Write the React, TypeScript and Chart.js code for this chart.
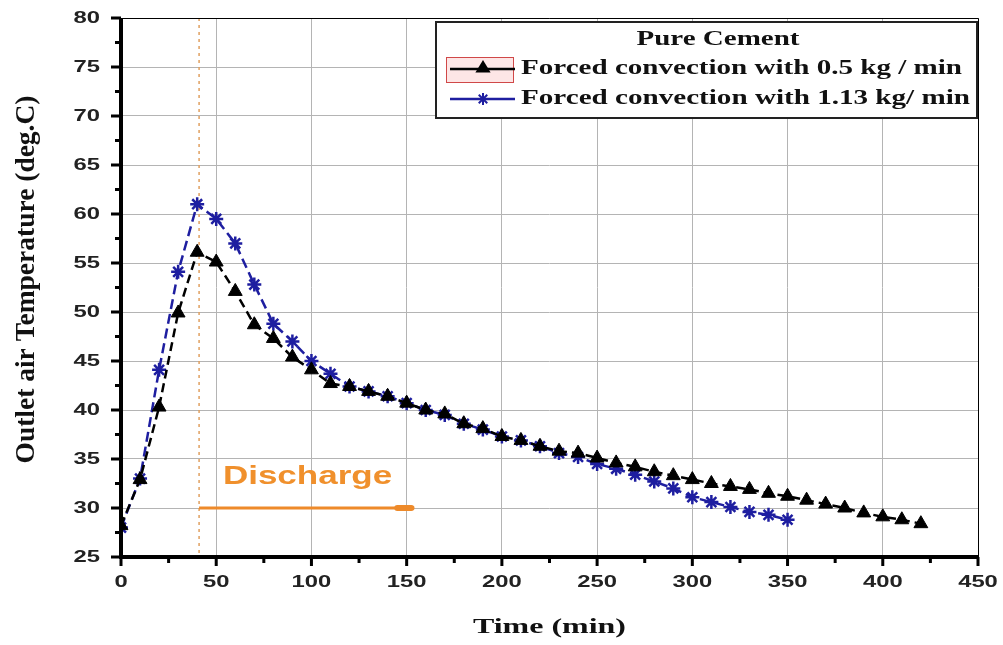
import React, { useEffect, useRef } from "react";
import { Chart, registerables } from "chart.js";

Chart.register(...registerables);

// ---------- data ----------
const timeSlow = [0, 10, 20, 30, 40, 50, 60, 70, 80, 90, 100, 110, 120, 130, 140, 150, 160, 170, 180, 190, 200, 210, 220, 230, 240, 250, 260, 270, 280, 290, 300, 310, 320, 330, 340, 350, 360, 370, 380, 390, 400, 410, 420];
const tempSlow = [28.2, 32.9, 40.3, 49.9, 56.1, 55.1, 52.1, 48.7, 47.3, 45.4, 44.1, 42.7, 42.4, 41.9, 41.4, 40.7, 40.0, 39.6, 38.6, 38.1, 37.3, 36.9, 36.3, 35.8, 35.6, 35.1, 34.6, 34.2, 33.7, 33.3, 32.9, 32.5, 32.2, 31.9, 31.5, 31.2, 30.8, 30.4, 30.0, 29.5, 29.1, 28.8, 28.4];
const timeFast = [0, 10, 20, 30, 40, 50, 60, 70, 80, 90, 100, 110, 120, 130, 140, 150, 160, 170, 180, 190, 200, 210, 220, 230, 240, 250, 260, 270, 280, 290, 300, 310, 320, 330, 340, 350];
const tempFast = [28.0, 33.0, 44.1, 54.1, 61.0, 59.5, 57.0, 52.8, 48.8, 47.0, 45.0, 43.7, 42.4, 41.9, 41.4, 40.7, 40.0, 39.5, 38.6, 38.0, 37.3, 36.9, 36.3, 35.6, 35.2, 34.5, 34.0, 33.4, 32.7, 32.0, 31.1, 30.6, 30.1, 29.6, 29.3, 28.8];

const xTicks = [0, 50, 100, 150, 200, 250, 300, 350, 400, 450];
const xMinorTicks = [25, 75, 125, 175, 225, 275, 325, 375, 425];
const yTicks = [25, 30, 35, 40, 45, 50, 55, 60, 65, 70, 75, 80];
const yMinorTicks = [27.5, 32.5, 37.5, 42.5, 47.5, 52.5, 57.5, 62.5, 67.5, 72.5, 77.5];

const legendTitle = "Pure Cement";
const seriesLabels = ["Forced convection with 0.5 kg / min", "Forced convection with 1.13 kg/ min"];
const xTitle = "Time (min)";
const yTitle = "Outlet air Temperature (deg.C)";

const dischargeLabel = "Discharge";
const dischargeStart = 41;
const dischargeEnd = 154;
const dischargeLevel = 30;
const dischargeTextTime = 53.5;
const dischargeTextTemp = 33.2;

// ---------- styles ----------
const BLUE = "#1e1ea0";
const ORANGE = "#ee8a2a";
const SX = 1.4;
const SANS = "'Liberation Sans', Arial, sans-serif";
const SERIF = "'Liberation Serif', 'Times New Roman', serif";

function drawText(ctx: CanvasRenderingContext2D, text: string, x: number, y: number, font: string, color: string, align: CanvasTextAlign, sx: number, targetWidth?: number) {
  ctx.save();
  ctx.font = font;
  ctx.fillStyle = color;
  ctx.textBaseline = "middle";
  ctx.textAlign = align;
  let s = sx;
  if (targetWidth) s = targetWidth / ctx.measureText(text).width;
  ctx.translate(x, y);
  ctx.scale(s, 1);
  ctx.fillText(text, 0, 0);
  ctx.restore();
}

function drawStar(ctx: CanvasRenderingContext2D, x: number, y: number, r: number) {
  ctx.save();
  ctx.strokeStyle = BLUE;
  ctx.lineWidth = 2;
  ctx.beginPath();
  for (let i = 0; i < 4; i++) {
    const a = (i * Math.PI) / 4;
    ctx.moveTo(x - Math.cos(a) * r, y - Math.sin(a) * r);
    ctx.lineTo(x + Math.cos(a) * r, y + Math.sin(a) * r);
  }
  ctx.stroke();
  ctx.restore();
}

function drawTriangle(ctx: CanvasRenderingContext2D, x: number, y: number, r: number) {
  ctx.save();
  ctx.fillStyle = "#000";
  ctx.beginPath();
  ctx.moveTo(x, y - r);
  ctx.lineTo(x + r * 0.95, y + r * 0.55);
  ctx.lineTo(x - r * 0.95, y + r * 0.55);
  ctx.closePath();
  ctx.fill();
  ctx.restore();
}

const decorPlugin = {
  id: "decor",
  beforeDatasetsDraw(chart: any) {
    const { ctx, chartArea: a, scales } = chart;
    const xs = scales.x, ys = scales.y;
    ctx.save();
    // vertical dotted line
    const vx = xs.getPixelForValue(dischargeStart);
    ctx.strokeStyle = "#e0a060";
    ctx.lineWidth = 1.5;
    ctx.setLineDash([3, 4]);
    ctx.beginPath();
    ctx.moveTo(vx, a.top);
    ctx.lineTo(vx, a.bottom);
    ctx.stroke();
    ctx.setLineDash([]);
    // discharge arrow
    const ly = ys.getPixelForValue(dischargeLevel);
    const ex = xs.getPixelForValue(dischargeEnd);
    ctx.strokeStyle = ORANGE;
    ctx.lineWidth = 3;
    ctx.beginPath();
    ctx.moveTo(vx, ly);
    ctx.lineTo(ex, ly);
    ctx.stroke();
    ctx.fillStyle = ORANGE;
    ctx.beginPath();
    ctx.roundRect(ex - 20, ly - 3, 20, 6, 3);
    ctx.fill();
    drawText(ctx, dischargeLabel, xs.getPixelForValue(dischargeTextTime), ys.getPixelForValue(dischargeTextTemp), `bold 25px ${SANS}`, "#f0902c", "left", SX);
    ctx.restore();
  },
  afterDraw(chart: any) {
    const { ctx, chartArea: a, scales } = chart;
    const xs = scales.x, ys = scales.y;
    ctx.save();
    // frame
    ctx.strokeStyle = "#000";
    ctx.lineWidth = 1;
    ctx.beginPath();
    ctx.moveTo(a.left, a.top + 0.5);
    ctx.lineTo(a.right + 0.5, a.top + 0.5);
    ctx.lineTo(a.right + 0.5, a.bottom);
    ctx.stroke();
    ctx.lineWidth = 4;
    ctx.beginPath();
    ctx.moveTo(a.left, a.top);
    ctx.lineTo(a.left, a.bottom);
    ctx.lineTo(a.right, a.bottom);
    ctx.stroke();
    // ticks
    ctx.lineWidth = 3;
    ctx.beginPath();
    xTicks.forEach((v) => {
      const px = xs.getPixelForValue(v);
      ctx.moveTo(px, a.bottom);
      ctx.lineTo(px, a.bottom + 9);
    });
    xMinorTicks.forEach((v) => {
      const px = xs.getPixelForValue(v);
      ctx.moveTo(px, a.bottom);
      ctx.lineTo(px, a.bottom + 6);
    });
    yTicks.forEach((v) => {
      const py = ys.getPixelForValue(v);
      ctx.moveTo(a.left, py);
      ctx.lineTo(a.left - 10, py);
    });
    yMinorTicks.forEach((v) => {
      const py = ys.getPixelForValue(v);
      ctx.moveTo(a.left, py);
      ctx.lineTo(a.left - 6, py);
    });
    ctx.stroke();
    // tick labels
    xTicks.forEach((v) => {
      drawText(ctx, String(v), xs.getPixelForValue(v), a.bottom + 25, `bold 17px ${SANS}`, "#222", "center", SX);
    });
    yTicks.forEach((v) => {
      drawText(ctx, String(v), a.left - 21, ys.getPixelForValue(v), `bold 17px ${SANS}`, "#222", "right", SX);
    });
    // axis titles
    drawText(ctx, xTitle, (a.left + a.right) / 2, 627, `bold 22px ${SERIF}`, "#111", "center", SX, 153);
    ctx.save();
    ctx.font = `bold 20px ${SERIF}`;
    const lw = ctx.measureText(yTitle).width;
    ctx.translate(27, (a.top + a.bottom) / 2 - 8);
    ctx.rotate(-Math.PI / 2);
    ctx.scale(368 / lw, SX);
    ctx.fillStyle = "#111";
    ctx.textAlign = "center";
    ctx.textBaseline = "middle";
    ctx.fillText(yTitle, 0, 0);
    ctx.restore();
    // legend
    const bx = 436, by = 22, bw = 541, bh = 96;
    ctx.fillStyle = "#fff";
    ctx.fillRect(bx, by, bw, bh);
    ctx.strokeStyle = "#222";
    ctx.lineWidth = 2;
    ctx.strokeRect(bx, by, bw, bh);
    drawText(ctx, legendTitle, 718, 40, `bold 20px ${SERIF}`, "#111", "center", SX, 163);
    // sample 1
    ctx.fillStyle = "#fde6e6";
    ctx.fillRect(446, 57, 67, 25);
    ctx.strokeStyle = "#d04848";
    ctx.lineWidth = 1;
    ctx.strokeRect(446.5, 57.5, 67, 25);
    ctx.strokeStyle = "#000";
    ctx.lineWidth = 2.5;
    ctx.beginPath();
    ctx.moveTo(450, 69);
    ctx.lineTo(515, 69);
    ctx.stroke();
    drawTriangle(ctx, 483, 68, 8);
    drawText(ctx, seriesLabels[0], 521, 69, `bold 20px ${SERIF}`, "#111", "left", SX, 441);
    // sample 2
    ctx.strokeStyle = BLUE;
    ctx.lineWidth = 2.5;
    ctx.beginPath();
    ctx.moveTo(450, 99);
    ctx.lineTo(515, 99);
    ctx.stroke();
    drawStar(ctx, 483, 99, 6);
    drawText(ctx, seriesLabels[1], 521, 99, `bold 20px ${SERIF}`, "#111", "left", SX, 449);
    ctx.restore();
  },
};

export default function App() {
  const ref = useRef<HTMLCanvasElement | null>(null);
  useEffect(() => {
    document.body.style.margin = "0";
    const canvas = ref.current;
    if (!canvas) return;
    const chart = new Chart(canvas, {
      type: "scatter",
      data: {
        datasets: [
          {
            label: seriesLabels[0],
            data: timeSlow.map((t, i) => ({ x: t, y: tempSlow[i] })),
            showLine: true,
            borderColor: "#000",
            borderWidth: 2.5,
            borderDash: [9, 5],
            pointStyle: "triangle",
            pointRadius: 8,
            pointBackgroundColor: "#000",
            pointBorderColor: "#000",
            pointBorderWidth: 1,
          },
          {
            label: seriesLabels[1],
            data: timeFast.map((t, i) => ({ x: t, y: tempFast[i] })),
            showLine: true,
            borderColor: BLUE,
            borderWidth: 2.5,
            borderDash: [10, 5],
            pointStyle: "star",
            pointRadius: 7,
            pointBackgroundColor: BLUE,
            pointBorderColor: BLUE,
            pointBorderWidth: 2.5,
          },
        ],
      },
      options: {
        animation: false,
        responsive: false,
        devicePixelRatio: 1,
        layout: { padding: { top: 18, right: 25, left: 0, bottom: 0 } },
        plugins: { legend: { display: false }, tooltip: { enabled: false } },
        scales: {
          x: {
            type: "linear",
            min: 0,
            max: 450,
            ticks: { stepSize: 50, display: false },
            grid: { color: "#b4b4b4", lineWidth: 1, drawTicks: false },
            border: { display: false },
            afterFit: (s: any) => { s.height = 88; },
          },
          y: {
            type: "linear",
            min: 25,
            max: 80,
            ticks: { stepSize: 5, display: false },
            grid: { color: "#b4b4b4", lineWidth: 1, drawTicks: false },
            border: { display: false },
            afterFit: (s: any) => { s.width = 121; },
          },
        },
      } as any,
      plugins: [decorPlugin],
    });
    return () => chart.destroy();
  }, []);
  return (
    <div style={{ position: "absolute", left: 0, top: 0, width: 1003, height: 645, background: "#fff" }}>
      <canvas ref={ref} width={1003} height={645} />
    </div>
  );
}
